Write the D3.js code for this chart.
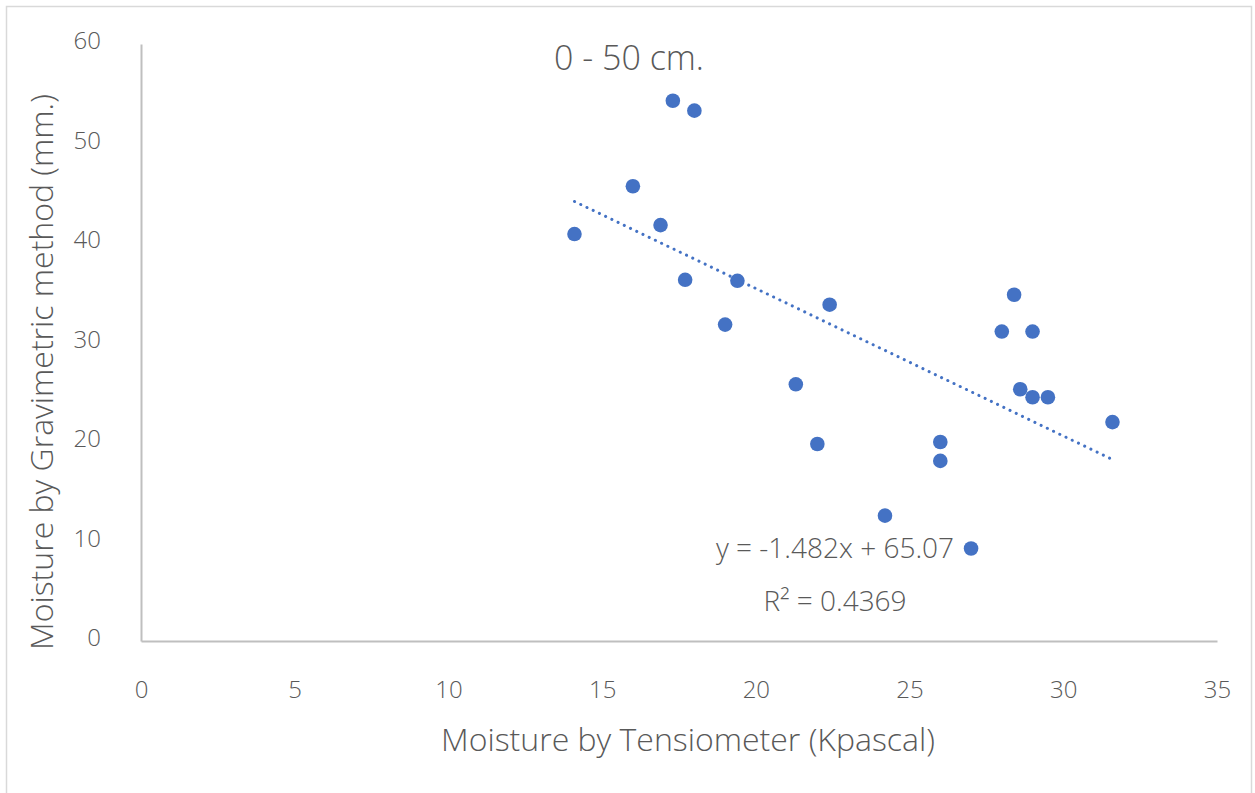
<!DOCTYPE html>
<html>
<head>
  <meta charset="utf-8">
  <title>0 - 50 cm.</title>
  <script src="https://d3js.org/d3.v7.min.js"></script>
  <style>
    body { margin: 0; background: #fff; }
    text { font-family: "Open Sans", "DejaVu Sans", sans-serif; fill: #595959; font-weight: 300; }
  </style>
</head>
<body>
  <svg id="chart" width="1255" height="793"></svg>
  <script>
    // tensiometer readings (Kpascal)
    var tension = [14.1, 16.0, 16.9, 17.3, 18.0, 17.7, 19.0, 19.4, 21.3, 22.0, 22.4,
                   24.2, 26.0, 26.0, 27.0, 28.0, 28.4, 28.6, 29.0, 29.0, 29.5, 31.6];
    // gravimetric moisture (mm.)
    var gravimetric = [40.9, 45.7, 41.8, 54.3, 53.3, 36.3, 31.8, 36.2, 25.8, 19.8, 33.8,
                       12.6, 20.0, 18.1, 9.3, 31.1, 34.8, 25.3, 31.1, 24.5, 24.5, 22.0];
    var xTicks = [0, 5, 10, 15, 20, 25, 30, 35];
    var yTicks = [0, 10, 20, 30, 40, 50, 60];
    var slope = -1.482, intercept = 65.07, r2 = 0.4369;

    var points = tension.map(function(t, i) { return { x: t, y: gravimetric[i] }; });

    var svg = d3.select('#chart');
    var margin = { top: 44, left: 141, bottom: 152, right: 38 };
    var width = +svg.attr('width') - margin.left - margin.right;
    var height = +svg.attr('height') - margin.top - margin.bottom;

    // chart frame
    svg.append('rect')
      .attr('x', 6.5).attr('y', 6.5)
      .attr('width', 1245).attr('height', 800)
      .attr('fill', 'none').attr('stroke', '#d9d9d9').attr('stroke-width', 1.5);

    var x = d3.scaleLinear().domain([0, 35]).range([margin.left, margin.left + width]);
    var y = d3.scaleLinear().domain([0, 60]).range([margin.top + height, margin.top]);

    var xAxis = svg.append('g')
      .attr('transform', 'translate(0,' + (margin.top + height) + ')')
      .call(d3.axisBottom(x).tickValues(xTicks).tickSize(0).tickPadding(40));
    var yAxis = svg.append('g')
      .attr('transform', 'translate(' + margin.left + ',0)')
      .call(d3.axisLeft(y).tickValues(yTicks).tickSize(0).tickPadding(40));

    [xAxis, yAxis].forEach(function(a) {
      a.select('.domain').attr('stroke', '#bfbfbf').attr('stroke-width', 2);
      a.selectAll('text').attr('font-size', 24)
        .attr('font-family', '"Open Sans", sans-serif').attr('fill', '#595959');
    });
    yAxis.selectAll('text').attr('dy', '0.2em');

    // linear trendline
    var xr = d3.extent(tension);
    svg.append('line')
      .attr('x1', x(xr[0])).attr('y1', y(slope * xr[0] + intercept))
      .attr('x2', x(xr[1])).attr('y2', y(slope * xr[1] + intercept))
      .attr('stroke', '#4472C4').attr('stroke-width', 3)
      .attr('stroke-linecap', 'round').attr('stroke-dasharray', '0.1 6.8');

    svg.selectAll('circle')
      .data(points)
      .enter().append('circle')
      .attr('cx', function(d) { return x(d.x); })
      .attr('cy', function(d) { return y(d.y); })
      .attr('r', 7.3)
      .attr('fill', '#4472C4');

    svg.append('text')
      .attr('x', 629).attr('y', 70)
      .attr('text-anchor', 'middle').attr('font-size', 34)
      .text('0 - 50 cm.');

    svg.append('text')
      .attr('x', 835).attr('y', 558)
      .attr('text-anchor', 'middle').attr('font-size', 28)
      .text('y = ' + slope + 'x + ' + intercept);
    svg.append('text')
      .attr('x', 835).attr('y', 611)
      .attr('text-anchor', 'middle').attr('font-size', 28)
      .text('R² = ' + r2);

    svg.append('text')
      .attr('x', 688).attr('y', 751)
      .attr('text-anchor', 'middle').attr('font-size', 32)
      .text('Moisture by Tensiometer (Kpascal)');

    svg.append('text')
      .attr('transform', 'translate(53,372) rotate(-90)')
      .attr('text-anchor', 'middle').attr('font-size', 32)
      .text('Moisture by Gravimetric method (mm.)');
  </script>
</body>
</html>
